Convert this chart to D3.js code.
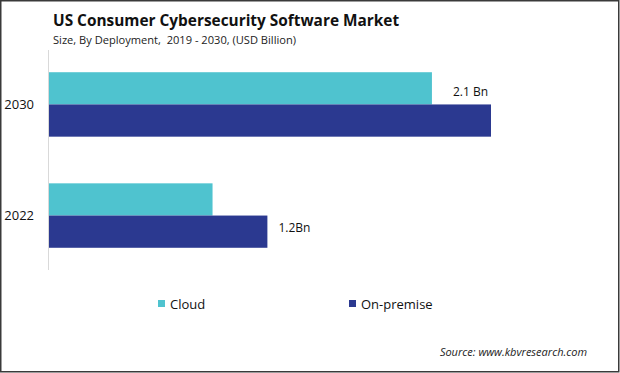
<!DOCTYPE html>
<html>
<head>
<meta charset="utf-8">
<script src="https://cdn.jsdelivr.net/npm/d3@7"></script>
<style>
    body { margin: 0; background: #fff; }
    svg { display: block; font-family: "Open Sans", sans-serif; }
    text { white-space: pre; }
</style>
</head>
<body>
<div id="chart"></div>
<script>
var years = ["2030", "2022"];
var seriesNames = ["Cloud", "On-premise"];
var cloudValues = [1.82, 0.78];
var onPremiseValues = [2.1, 1.04];
var valueLabels = ["2.1 Bn", "1.2Bn"];
var titleText = "US Consumer Cybersecurity Software Market";
var subtitleText = "Size, By Deployment,  2019 - 2030, (USD Billion)";
var sourceText = "Source: www.kbvresearch.com";

var width = 620, height = 373;
var colors = {"Cloud": "#4fc3cf", "On-premise": "#2b3990"};

var svg = d3.select("#chart").append("svg")
    .attr("width", width)
    .attr("height", height);

// frame
svg.append("rect")
    .attr("x", 0.75).attr("y", 0.75)
    .attr("width", width - 2).attr("height", height - 2)
    .attr("fill", "#fff")
    .attr("stroke", "#3a3a3a")
    .attr("stroke-width", 1.5);

svg.append("text")
    .attr("x", 53).attr("y", 26)
    .attr("font-size", 15.4)
    .attr("font-weight", "bold")
    .attr("fill", "#111")
    .text(titleText);

svg.append("text")
    .attr("x", 53).attr("y", 44)
    .attr("font-size", 11.1)
    .attr("fill", "#222")
    .text(subtitleText);

var data = years.map(function (y, i) {
    return {year: y, "Cloud": cloudValues[i], "On-premise": onPremiseValues[i], label: valueLabels[i]};
});

var x = d3.scaleLinear().domain([0, 2.1]).range([48, 491]);
var y = d3.scaleBand().domain(years).range([50, 270]).paddingInner(0.42).paddingOuter(0.2);
var ySub = d3.scaleBand().domain(seriesNames).range([0, y.bandwidth()]);

var groups = svg.append("g").selectAll("g")
    .data(data)
    .enter().append("g")
    .attr("transform", function (d) { return "translate(0," + y(d.year) + ")"; });

groups.selectAll("rect")
    .data(function (d) { return seriesNames.map(function (s) { return {key: s, value: d[s]}; }); })
    .enter().append("rect")
    .attr("x", x(0))
    .attr("y", function (d) { return ySub(d.key); })
    .attr("width", function (d) { return x(d.value) - x(0); })
    .attr("height", ySub.bandwidth())
    .attr("fill", function (d) { return colors[d.key]; });

// value labels: 2030 sits beside the cloud bar, 2022 beside the on-premise bar
groups.append("text")
    .attr("x", function (d, i) { return i === 0 ? x(d["Cloud"]) + 21 : x(d["On-premise"]) + 11; })
    .attr("y", function (d, i) { return i === 0 ? ySub("Cloud") + 20 : ySub("On-premise") + 12; })
    .attr("dy", "0.35em")
    .attr("font-size", 12)
    .attr("fill", "#111")
    .text(function (d) { return d.label; });

// axis
var yAxis = d3.axisLeft(y).tickSize(0).tickPadding(14);
var axisG = svg.append("g")
    .attr("transform", "translate(" + x(0) + ",0)")
    .call(yAxis);
axisG.select(".domain").attr("stroke", "#d9d9d9").attr("d", "M0.5,50V270");
axisG.selectAll(".tick text")
    .attr("font-family", "Open Sans, sans-serif")
    .attr("font-size", 13)
    .attr("fill", "#111");

// legend
var legendX = [158, 349];
var legend = svg.append("g").selectAll("g")
    .data(seriesNames)
    .enter().append("g")
    .attr("transform", function (d, i) { return "translate(" + legendX[i] + ",300)"; });
legend.append("rect")
    .attr("width", 7).attr("height", 7)
    .attr("fill", function (d) { return colors[d]; });
legend.append("text")
    .attr("x", 12).attr("y", 4)
    .attr("dy", "0.35em")
    .attr("font-size", 13)
    .attr("fill", "#111")
    .text(function (d) { return d; });

svg.append("text")
    .attr("x", 587).attr("y", 356)
    .attr("text-anchor", "end")
    .attr("font-size", 11)
    .attr("font-style", "italic")
    .attr("fill", "#222")
    .text(sourceText);
</script>
</body>
</html>
